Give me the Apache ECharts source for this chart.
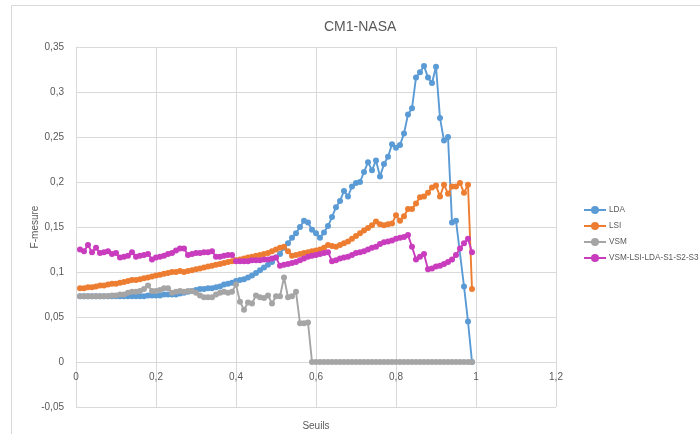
<!DOCTYPE html>
<html>
<head>
<meta charset="utf-8">
<script src="https://cdn.jsdelivr.net/npm/echarts@6/dist/echarts.min.js"></script>
<style>
  html, body { margin: 0; padding: 0; background: #ffffff; }
  #chart { width: 700px; height: 434px; }
</style>
</head>
<body>
<div id="chart"></div>
<script>
// Thresholds (Seuils) shared by every series
const seuils = [
  0.01, 0.02, 0.03, 0.04, 0.05, 0.06, 0.07, 0.08, 0.09,
  0.10, 0.11, 0.12, 0.13, 0.14, 0.15, 0.16, 0.17, 0.18, 0.19,
  0.20, 0.21, 0.22, 0.23, 0.24, 0.25, 0.26, 0.27, 0.28, 0.29,
  0.30, 0.31, 0.32, 0.33, 0.34, 0.35, 0.36, 0.37, 0.38, 0.39,
  0.40, 0.41, 0.42, 0.43, 0.44, 0.45, 0.46, 0.47, 0.48, 0.49,
  0.50, 0.51, 0.52, 0.53, 0.54, 0.55, 0.56, 0.57, 0.58, 0.59,
  0.60, 0.61, 0.62, 0.63, 0.64, 0.65, 0.66, 0.67, 0.68, 0.69,
  0.70, 0.71, 0.72, 0.73, 0.74, 0.75, 0.76, 0.77, 0.78, 0.79,
  0.80, 0.81, 0.82, 0.83, 0.84, 0.85, 0.86, 0.87, 0.88, 0.89,
  0.90, 0.91, 0.92, 0.93, 0.94, 0.95, 0.96, 0.97, 0.98, 0.99
];

// F-mesure per threshold
const lda = [
  0.073, 0.073, 0.073, 0.073, 0.073, 0.073, 0.073, 0.073, 0.073,
  0.073, 0.073, 0.073, 0.073, 0.073, 0.073, 0.073, 0.073, 0.074, 0.074,
  0.074, 0.074, 0.075, 0.075, 0.075, 0.075, 0.076, 0.077, 0.078, 0.079,
  0.080, 0.081, 0.081, 0.082, 0.082, 0.083, 0.084, 0.086, 0.087, 0.088,
  0.090, 0.091, 0.092, 0.094, 0.096, 0.099, 0.102, 0.105, 0.108, 0.111,
  0.116, 0.120, 0.127, 0.132, 0.138, 0.143, 0.150, 0.157, 0.155, 0.147,
  0.143, 0.138, 0.144, 0.151, 0.161, 0.172, 0.179, 0.190, 0.184, 0.195,
  0.199, 0.200, 0.211, 0.222, 0.213, 0.224, 0.206, 0.220, 0.228, 0.242,
  0.238, 0.241, 0.254, 0.275, 0.282, 0.316, 0.322, 0.329, 0.316, 0.310,
  0.328, 0.271, 0.246, 0.250, 0.155, 0.157, null, 0.084, 0.045, 0
];

const lsi = [
  0.082, 0.082, 0.083, 0.083, 0.084, 0.085, 0.085, 0.086, 0.087,
  0.087, 0.088, 0.089, 0.090, 0.091, 0.091, 0.092, 0.093, 0.094, 0.095,
  0.096, 0.097, 0.098, 0.099, 0.100, 0.100, 0.101, 0.100, 0.101, 0.102,
  0.103, 0.104, 0.105, 0.106, 0.107, 0.108, 0.109, 0.110, 0.111, 0.112,
  0.113, 0.114, 0.115, 0.116, 0.117, 0.118, 0.119, 0.120, 0.121, 0.123,
  0.125, 0.127, 0.128, 0.123, 0.118, 0.119, 0.120, 0.121, 0.122, 0.123,
  0.124, 0.125, 0.127, 0.130, 0.129, 0.128, 0.130, 0.132, 0.134, 0.137,
  0.140, 0.143, 0.146, 0.149, 0.152, 0.156, 0.153, 0.152, 0.153, 0.154,
  0.163, 0.157, 0.162, 0.170, 0.170, 0.176, 0.183, 0.184, 0.188, 0.194,
  0.196, 0.184, 0.197, 0.187, 0.195, 0.195, 0.199, 0.188, 0.197, 0.081
];

const vsm = [
  0.073, 0.073, 0.073, 0.073, 0.073, 0.073, 0.073, 0.073, 0.074,
  0.074, 0.075, 0.075, 0.077, 0.078, 0.078, 0.079, 0.081, 0.085, 0.079,
  0.079, 0.080, 0.082, 0.082, 0.077, 0.078, 0.079, 0.078, 0.079, 0.079,
  0.077, 0.074, 0.072, 0.072, 0.072, 0.075, 0.077, 0.078, 0.077, 0.078,
  0.086, 0.067, 0.058, 0.066, 0.065, 0.074, 0.072, 0.071, 0.074, 0.065,
  0.073, 0.073, 0.094, 0.072, 0.073, 0.078, 0.043, 0.043, 0.044, 0,
  0, 0, 0, 0, 0, 0, 0, 0, 0, 0,
  0, 0, 0, 0, 0, 0, 0, 0, 0, 0,
  0, 0, 0, 0, 0, 0, 0, 0, 0, 0,
  0, 0, 0, 0, 0, 0, 0, 0, 0, 0
];

const combined = [
  0.125, 0.123, 0.130, 0.122, 0.127, 0.121, 0.122, 0.123, 0.120,
  0.121, 0.116, 0.117, 0.118, 0.122, 0.117, 0.118, 0.119, 0.120, 0.114,
  0.116, 0.117, 0.118, 0.120, 0.121, 0.124, 0.126, 0.126, 0.119, 0.120,
  0.121, 0.121, 0.122, 0.122, 0.123, 0.117, 0.117, 0.118, 0.119, 0.119,
  0.112, 0.112, 0.112, 0.112, 0.113, 0.113, 0.113, 0.114, 0.114, 0.115,
  0.116, 0.107, 0.108, 0.109, 0.110, 0.111, 0.113, 0.115, 0.117, 0.118,
  0.119, 0.120, 0.121, 0.122, 0.112, 0.113, 0.115, 0.116, 0.117, 0.119,
  0.121, 0.122, 0.123, 0.125, 0.127, 0.128, 0.131, 0.133, 0.134, 0.135,
  0.137, 0.138, 0.139, 0.141, 0.128, 0.114, 0.117, 0.120, 0.103, 0.104,
  0.106, 0.107, 0.109, 0.111, 0.114, 0.119, 0.126, 0.132, 0.137, 0.122
];

const seriesNames = ['LDA', 'LSI', 'VSM', 'VSM-LSI-LDA-S1-S2-S3'];
const seriesColors = ['#5b9bd5', '#ed7d31', '#a5a5a5', '#c83cbd'];
const seriesValues = [lda, lsi, vsm, combined];

const textColor = '#595959';
const gridColor = '#d9d9d9';
const fontFamily = '"Liberation Sans", Arial, sans-serif';

// Decimal comma for tick labels
function frNumber(v) {
  const r = Math.round(v * 1000) / 1000;
  return String(r).replace('.', ',');
}

const chart = echarts.init(document.getElementById('chart'), null, { renderer: 'canvas' });

// Plot area: y from -0.05 to 0.35 over 360 px, so the zero line sits 45 px above the bottom
const plotHeight = 360;
const zeroOffset = plotHeight * 0.05 / 0.4;

chart.setOption({
  animation: false,
  backgroundColor: '#ffffff',
  textStyle: { fontFamily: fontFamily },
  title: {
    text: 'CM1-NASA',
    left: 319,
    top: 15,
    textStyle: { fontSize: 14, fontWeight: 'normal', color: textColor, fontFamily: fontFamily }
  },
  graphic: [{
    type: 'rect',
    shape: { x: 11.5, y: 5.5, width: 800, height: 600 },
    style: { fill: 'none', stroke: gridColor, lineWidth: 1 },
    silent: true,
    z: -10
  }],
  legend: {
    orient: 'vertical',
    left: 583,
    top: 206,
    padding: 0,
    itemWidth: 22,
    itemHeight: 10,
    itemGap: 8.0,
    data: seriesNames,
    textStyle: { fontSize: 8.2, color: textColor, fontFamily: fontFamily, padding: [0, 0, 0, -2] }
  },
  grid: { left: 76, right: 144, top: 47, height: plotHeight, containLabel: false, outerBoundsMode: 'none' },
  xAxis: {
    type: 'value',
    min: 0,
    max: 1.2,
    interval: 0.2,
    offset: -zeroOffset,
    name: 'Seuils',
    nameLocation: 'middle',
    nameGap: 59,
    nameMoveOverlap: false,
    nameTextStyle: { fontSize: 10, color: textColor },
    axisLine: { onZero: false, lineStyle: { color: gridColor } },
    axisTick: { show: false },
    axisLabel: { fontSize: 10, color: textColor, margin: 10, formatter: frNumber },
    splitLine: { show: true, lineStyle: { color: gridColor, width: 1 } }
  },
  yAxis: {
    type: 'value',
    min: -0.05,
    max: 0.35,
    interval: 0.05,
    name: 'F-mesure',
    nameLocation: 'middle',
    nameGap: 36,
    nameMoveOverlap: false,
    nameTextStyle: { fontSize: 10, color: textColor },
    axisLine: { show: true, lineStyle: { color: gridColor } },
    axisTick: { show: false },
    axisLabel: { fontSize: 10, color: textColor, margin: 12, formatter: frNumber },
    splitLine: { show: true, lineStyle: { color: gridColor, width: 1 } }
  },
  series: seriesNames.map((name, i) => ({
    name: name,
    type: 'line',
    data: seuils.map((s, k) => [s, seriesValues[i][k]]),
    connectNulls: true,
    symbol: 'circle',
    symbolSize: 6,
    showSymbol: true,
    color: seriesColors[i],
    lineStyle: { width: 1.9, color: seriesColors[i] },
    itemStyle: { color: seriesColors[i] }
  }))
});
</script>
</body>
</html>
